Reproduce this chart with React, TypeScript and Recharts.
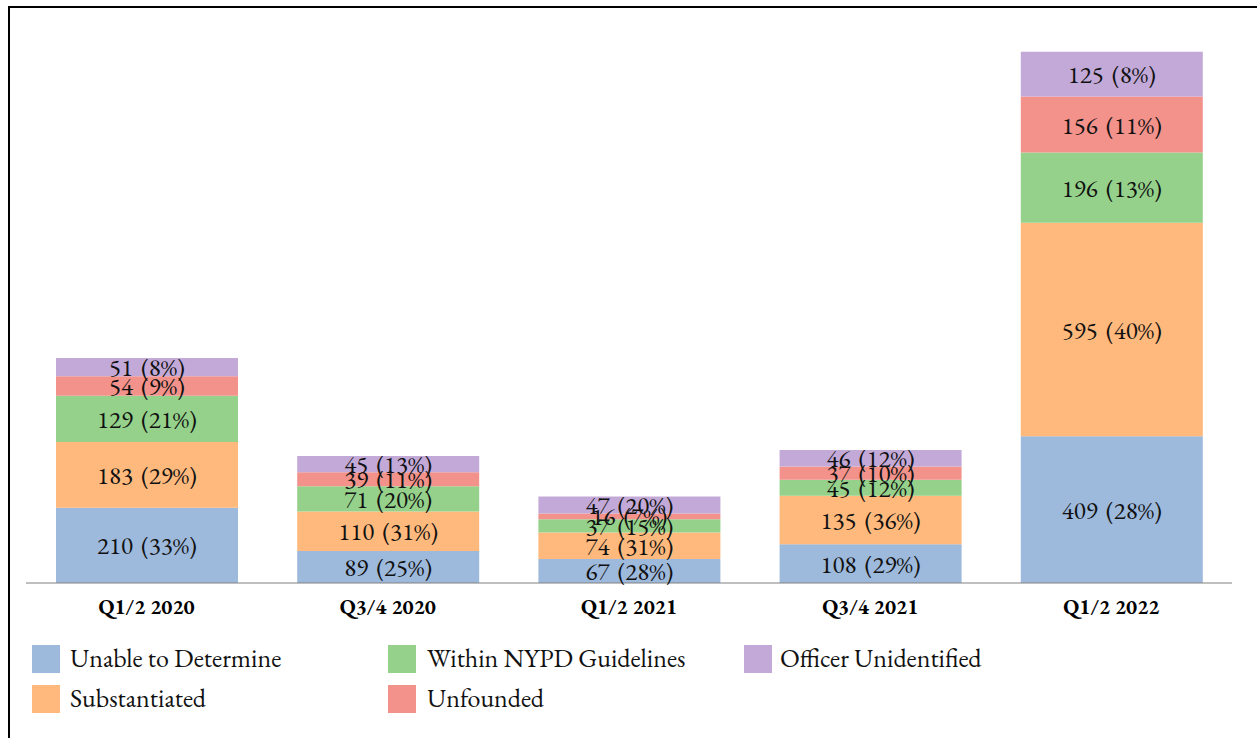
import React from "react";
import { BarChart, Bar, XAxis, YAxis, LabelList } from "recharts";

const categories = ["Q1/2 2020", "Q3/4 2020", "Q1/2 2021", "Q3/4 2021", "Q1/2 2022"];
const unableValues = [210, 89, 67, 108, 409];
const unablePct = [33, 25, 28, 29, 28];
const substantiatedValues = [183, 110, 74, 135, 595];
const substantiatedPct = [29, 31, 31, 36, 40];
const withinValues = [129, 71, 37, 45, 196];
const withinPct = [21, 20, 15, 12, 13];
const unfoundedValues = [54, 39, 16, 37, 156];
const unfoundedPct = [9, 11, 7, 10, 11];
const officerValues = [51, 45, 47, 46, 125];
const officerPct = [8, 13, 20, 12, 8];

const series = [
  { key: "unable", name: "Unable to Determine", color: "#9DB9DC", values: unableValues, pct: unablePct },
  { key: "substantiated", name: "Substantiated", color: "#FFB97D", values: substantiatedValues, pct: substantiatedPct },
  { key: "within", name: "Within NYPD Guidelines", color: "#95D18A", values: withinValues, pct: withinPct },
  { key: "unfounded", name: "Unfounded", color: "#F2928B", values: unfoundedValues, pct: unfoundedPct },
  { key: "officer", name: "Officer Unidentified", color: "#C3A9D8", values: officerValues, pct: officerPct },
];

const data = categories.map((c, i) => {
  const row: any = { category: c };
  series.forEach((s) => {
    row[s.key] = s.values[i];
  });
  return row;
});

const FONT = "'EB Garamond'";

const makeLabel = (s: typeof series[number]) => (props: any) => {
  const { x, y, width, height, index } = props;
  return (
    <text
      x={x + width / 2}
      y={y + height / 2}
      textAnchor="middle"
      dominantBaseline="central"
      fontFamily={FONT}
      fontSize={25}
      wordSpacing={3}
      fill="#111"
    >
      {`${s.values[index]} (${s.pct[index]}%)`}
    </text>
  );
};

const Tick = (props: any) => {
  const { x, y, payload } = props;
  return (
    <text
      x={x}
      y={y + 15}
      textAnchor="middle"
      dominantBaseline="central"
      fontFamily={FONT}
      fontSize={21}
      fontWeight="bold"
      fill="#000"
    >
      {payload.value}
    </text>
  );
};

const legendItems = [
  { s: series[0], left: 22, top: 637, textLeft: 60 },
  { s: series[2], left: 378, top: 637, textLeft: 417 },
  { s: series[4], left: 734, top: 637, textLeft: 770 },
  { s: series[1], left: 22, top: 677, textLeft: 60 },
  { s: series[3], left: 378, top: 677, textLeft: 417 },
];

export default function App() {
  return (
    <div
      style={{
        position: "absolute",
        left: 8,
        top: 6,
        width: 1249,
        height: 740,
        borderTop: "2px solid #000",
        borderLeft: "2px solid #000",
        boxSizing: "border-box",
        background: "#fff",
      }}
    >
      <BarChart
        width={1247}
        height={620}
        data={data}
        margin={{ top: 1, right: 25, left: 16, bottom: 0 }}
      >
        <XAxis
          dataKey="category"
          height={45}
          tickLine={false}
          axisLine={{ stroke: "#808080", strokeWidth: 1 }}
          tick={<Tick />}
          interval={0}
        />
        <YAxis hide domain={[0, 1600]} />
        {series.map((s) => (
          <Bar
            key={s.key}
            dataKey={s.key}
            name={s.name}
            stackId="a"
            fill={s.color}
            barSize={182}
            isAnimationActive={false}
          >
            <LabelList dataKey={s.key} content={makeLabel(s)} />
          </Bar>
        ))}
      </BarChart>
      {legendItems.map(({ s, left, top, textLeft }) => (
        <React.Fragment key={s.key}>
          <div
            style={{
              position: "absolute",
              left,
              top,
              width: 28,
              height: 28,
              background: s.color,
            }}
          />
          <div
            style={{
              position: "absolute",
              left: textLeft,
              top: top + 13,
              transform: "translateY(-50%)",
              fontFamily: FONT,
              fontSize: 26,
              color: "#111",
              whiteSpace: "nowrap",
              lineHeight: 1,
            }}
          >
            {s.name}
          </div>
        </React.Fragment>
      ))}
    </div>
  );
}
